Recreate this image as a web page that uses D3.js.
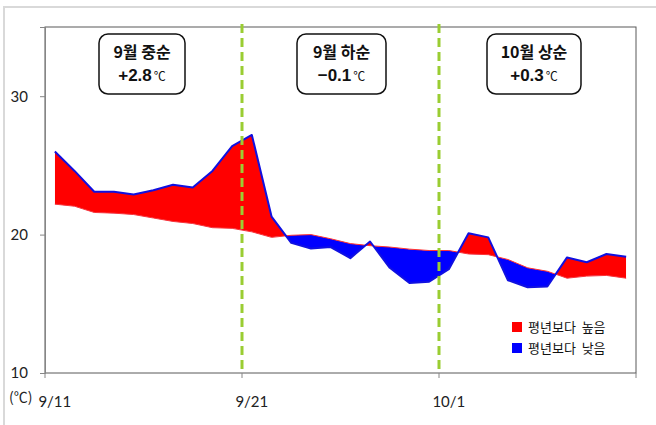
<!DOCTYPE html>
<html>
<head>
<meta charset="utf-8">
<script src="https://cdn.jsdelivr.net/npm/d3@7"></script>
<style>
  body { margin: 0; background: #fff; }
  svg { display: block; }
</style>
</head>
<body>
<div id="chart"></div>
<script>
// categories (daily, 9/11 ~ 10/10)
var days = ["9/11","9/12","9/13","9/14","9/15","9/16","9/17","9/18","9/19","9/20",
            "9/21","9/22","9/23","9/24","9/25","9/26","9/27","9/28","9/29","9/30",
            "10/1","10/2","10/3","10/4","10/5","10/6","10/7","10/8","10/9","10/10"];
// observed mean temperature
var actual = [26.0, 24.6, 23.1, 23.1, 22.9, 23.2, 23.6, 23.4, 24.6, 26.4,
              27.2, 21.3, 19.4, 19.0, 19.1, 18.3, 19.5, 17.6, 16.5, 16.6,
              17.5, 20.1, 19.8, 16.7, 16.2, 16.25, 18.35, 18.0, 18.6, 18.4];
// normal (평년)
var normal = [22.2, 22.05, 21.6, 21.55, 21.45, 21.2, 20.95, 20.8, 20.5, 20.45,
              20.2, 19.8, 19.95, 20.0, 19.7, 19.35, 19.2, 19.1, 18.95, 18.85,
              18.85, 18.6, 18.55, 18.2, 17.6, 17.35, 16.85, 17.0, 17.05, 16.85];
var y_ticks = [10, 20, 30];
var x_labels = ["9/11", "9/21", "10/1"];
var period_starts = ["9/21", "10/1"];
var notes = [
  {title: "9월 중순", value: "+2.8"},
  {title: "9월 하순", value: "−0.1"},
  {title: "10월 상순", value: "+0.3"}
];
var legend_items = [
  {label: "평년보다\u00a0\u00a0높음", color: "#ff0000"},
  {label: "평년보다\u00a0\u00a0낮음", color: "#0000ff"}
];

var width = 656, height = 425;
var plot = {left: 45, top: 27, right: 636, bottom: 373};
var kr = "'Noto Sans CJK KR', 'Noto Sans', sans-serif";
var num_font = "Lato, 'Open Sans', sans-serif";

var svg = d3.select("#chart").append("svg")
    .attr("width", width)
    .attr("height", height);

// outer frame
svg.append("rect")
    .attr("x", 4).attr("y", 7)
    .attr("width", width + 10).attr("height", height + 10)
    .attr("fill", "#fff")
    .attr("stroke", "#d9d9d9")
    .attr("stroke-width", 2);

var x = d3.scaleBand()
    .domain(days)
    .range([plot.left, plot.right])
    .padding(0);

var y = d3.scaleLinear()
    .domain([10, 35])
    .range([plot.bottom, plot.top]);

function cx(d) { return x(d) + x.bandwidth() / 2; }

var data = days.map(function(d, i) {
    return {day: d, actual: actual[i], normal: normal[i]};
});

// clip regions above / below the normal line
var defs = svg.append("defs");
defs.append("clipPath").attr("id", "clip-above")
    .append("path")
    .attr("d", d3.area()
        .x(function(d) { return cx(d.day); })
        .y0(function(d) { return y(d.normal); })
        .y1(0)(data));
defs.append("clipPath").attr("id", "clip-below")
    .append("path")
    .attr("d", d3.area()
        .x(function(d) { return cx(d.day); })
        .y0(function(d) { return y(d.normal); })
        .y1(height)(data));

var band = d3.area()
    .x(function(d) { return cx(d.day); })
    .y0(function(d) { return y(d.normal); })
    .y1(function(d) { return y(d.actual); });

svg.append("path")
    .datum(data)
    .attr("clip-path", "url(#clip-above)")
    .attr("fill", "#ff0000")
    .attr("d", band);

svg.append("path")
    .datum(data)
    .attr("clip-path", "url(#clip-below)")
    .attr("fill", "#0000ff")
    .attr("d", band);

// normal line
svg.append("path")
    .datum(data)
    .attr("fill", "none")
    .attr("stroke", "#ff3333")
    .attr("stroke-width", 1)
    .attr("d", d3.line()
        .x(function(d) { return cx(d.day); })
        .y(function(d) { return y(d.normal); }));

// observed line
svg.append("path")
    .datum(data)
    .attr("fill", "none")
    .attr("stroke", "#1010e0")
    .attr("stroke-width", 2)
    .attr("stroke-linejoin", "round")
    .attr("d", d3.line()
        .x(function(d) { return cx(d.day); })
        .y(function(d) { return y(d.actual); }));

// plot frame
svg.append("rect")
    .attr("x", plot.left).attr("y", plot.top)
    .attr("width", plot.right - plot.left)
    .attr("height", plot.bottom - plot.top)
    .attr("fill", "none")
    .attr("stroke", "#595959")
    .attr("stroke-width", 1);

// y axis
var y_axis = svg.append("g")
    .attr("transform", `translate(${plot.left},0)`)
    .call(d3.axisLeft(y).tickValues(y_ticks).tickSize(5).tickPadding(12));
y_axis.select(".domain").attr("stroke", "#868686");
y_axis.selectAll(".tick line").attr("stroke", "#868686");
y_axis.selectAll(".tick text")
    .attr("fill", "#222")
    .style("font-family", num_font)
    .style("font-size", "15px");

// x axis: labels at category centre, ticks every 10 days at boundaries
svg.selectAll(".xtick")
    .data(x_labels)
    .enter().append("line")
    .attr("class", "xtick")
    .attr("x1", function(d) { return x(d); })
    .attr("x2", function(d) { return x(d); })
    .attr("y1", plot.bottom)
    .attr("y2", plot.bottom + 5)
    .attr("stroke", "#868686");
svg.append("line")
    .attr("x1", plot.right).attr("x2", plot.right)
    .attr("y1", plot.bottom).attr("y2", plot.bottom + 5)
    .attr("stroke", "#868686");

svg.selectAll(".xlabel")
    .data(x_labels)
    .enter().append("text")
    .attr("class", "xlabel")
    .attr("x", function(d) { return cx(d); })
    .attr("y", 407)
    .attr("text-anchor", "middle")
    .attr("fill", "#222")
    .style("font-family", num_font)
    .style("font-size", "15px")
    .text(function(d) { return d; });

svg.append("text")
    .attr("x", 9).attr("y", 402)
    .attr("fill", "#222")
    .style("font-family", kr)
    .style("font-size", "14px")
    .text("(℃)");

// period dividers
svg.selectAll(".divider")
    .data(period_starts)
    .enter().append("line")
    .attr("class", "divider")
    .attr("x1", function(d) { return x(d); })
    .attr("x2", function(d) { return x(d); })
    .attr("y1", 24)
    .attr("y2", plot.bottom)
    .attr("stroke", "#9acd32")
    .attr("stroke-width", 3)
    .attr("stroke-dasharray", "9,5");

// period annotation boxes
var boxes = [
  {x0: 99, x1: 185},
  {x0: 297, x1: 386},
  {x0: 487, x1: 581}
];
var note = svg.selectAll(".note")
    .data(notes)
    .enter().append("g")
    .attr("class", "note");

note.append("rect")
    .attr("x", function(d, i) { return boxes[i].x0; })
    .attr("y", 34)
    .attr("width", function(d, i) { return boxes[i].x1 - boxes[i].x0; })
    .attr("height", 60)
    .attr("rx", 9)
    .attr("fill", "#fff")
    .attr("stroke", "#111")
    .attr("stroke-width", 1.5);

note.append("text")
    .attr("x", function(d, i) { return (boxes[i].x0 + boxes[i].x1) / 2; })
    .attr("y", 58)
    .attr("text-anchor", "middle")
    .attr("fill", "#111")
    .style("font-family", kr)
    .style("font-weight", "bold")
    .style("font-size", "16px")
    .text(function(d) { return d.title; });

var val = note.append("text")
    .attr("x", function(d, i) { return (boxes[i].x0 + boxes[i].x1) / 2; })
    .attr("y", 81)
    .attr("text-anchor", "middle")
    .attr("fill", "#111");
val.append("tspan")
    .style("font-family", "'Liberation Sans', Arial, sans-serif")
    .style("font-weight", "bold")
    .style("font-size", "17px")
    .text(function(d) { return d.value; });
val.append("tspan")
    .attr("dx", 2)
    .style("font-family", kr)
    .style("font-size", "12px")
    .text("℃");

// legend
var legend = svg.selectAll(".legend")
    .data(legend_items)
    .enter().append("g")
    .attr("class", "legend")
    .attr("transform", function(d, i) { return `translate(512,${322 + i * 21})`; });
legend.append("rect")
    .attr("width", 10).attr("height", 10)
    .attr("fill", function(d) { return d.color; });
legend.append("text")
    .attr("x", 16).attr("y", 10)
    .attr("fill", "#111")
    .style("font-family", kr)
    .style("font-size", "13px")
    .text(function(d) { return d.label; });
</script>
</body>
</html>
